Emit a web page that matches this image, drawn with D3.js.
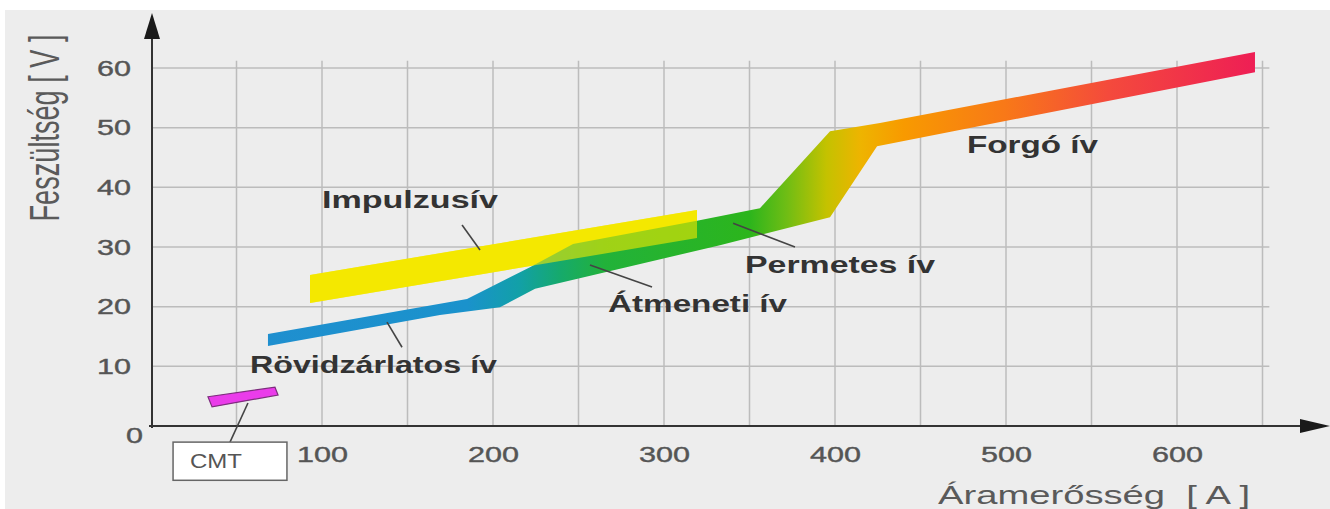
<!DOCTYPE html>
<html>
<head>
<meta charset="utf-8">
<script src="https://cdnjs.cloudflare.com/ajax/libs/d3/7.8.5/d3.min.js"></script>
<style>
  body { margin: 0; background: #fff; }
  svg { display: block; font-family: "Liberation Sans", Arial, sans-serif; }
</style>
</head>
<body>
<div id="main"></div>
<script>
// axis ticks
var xTicks = [100, 200, 300, 400, 500, 600];
var yTicks = [0, 10, 20, 30, 40, 50, 60];
var xGrid = [50, 100, 150, 200, 250, 300, 350, 400, 450, 500, 550, 600, 650];
var yGrid = [10, 20, 30, 40, 50, 60];

// main arc band (short arc -> transition -> spray -> rotating), [A, V]
var mainUpper = [[68.4, 15.4], [184.8, 21.3], [221.6, 26.6], [246.8, 30.5], [319.3, 34.4],
                 [356.1, 36.5], [397.1, 49.4], [426.3, 50.8], [645.6, 62.7]];
var mainLower = [[68.4, 13.4], [169.0, 18.6], [204.1, 19.9], [224.6, 23.0], [332.7, 30.3],
                 [397.1, 35.0], [424.6, 46.9], [645.6, 59.3]];

// pulse arc band
var pulseUpper = [[93, 25.3], [319.3, 36.2]];
var pulseLower = [[93, 20.6], [319.3, 31.5]];

// CMT patch
var cmtShape = [[33.3, 4.9], [72.5, 6.5], [74.3, 5.2], [35.7, 3.2]];

// colour along the current axis
var bandStops = [[68, "#1f8fcf"], [185, "#1a92cc"], [215, "#12a0a8"], [240, "#16aa6a"],
                 [265, "#22b23a"], [350, "#2cb51c"], [372, "#70bd14"], [395, "#c4c200"],
                 [415, "#eeb400"], [440, "#f89a00"], [500, "#f87818"], [560, "#f44a3c"],
                 [646, "#ee1e55"]];

// labels and their leader lines
var labels = [
  {text: "Impulzusív", a: 100, v: 36.5},
  {text: "Rövidzárlatos ív", a: 57.9, v: 8.9},
  {text: "Átmeneti ív", a: 267.3, v: 19.1},
  {text: "Permetes ív", a: 347.4, v: 25.6},
  {text: "Forgó ív", a: 477.2, v: 45.8}
];
var leaders = [
  [[181.9, 33.7], [192.4, 29.5]],
  [[138.0, 17.4], [146.8, 13.2]],
  [[256.7, 27.0], [293.0, 23.3]],
  [[340.4, 34.0], [376.6, 30.0]],
  [[56.7, 3.85], [46.2, -2.7]]
];
var cmtBox = {a0: 12.9, a1: 79.5, v0: -2.7, v1: -9.1, text: "CMT"};

var width = 1330, height = 509;
var labelWidth = {"Impulzusív": 176, "Rövidzárlatos ív": 247, "Átmeneti ív": 179,
                  "Permetes ív": 190, "Forgó ív": 131};

var x = d3.scaleLinear().domain([0, 650]).range([151, 151 + 650 * 1.71]);
var y = d3.scaleLinear().domain([0, 60]).range([426, 68]);

var svg = d3.select("#main").append("svg")
    .attr("width", width)
    .attr("height", height);

svg.append("rect")
    .attr("x", 5).attr("y", 10)
    .attr("width", width - 5).attr("height", height - 10)
    .attr("fill", "#ededed");

var grad = svg.append("defs").append("linearGradient")
    .attr("id", "arcGrad")
    .attr("gradientUnits", "userSpaceOnUse")
    .attr("x1", x(bandStops[0][0])).attr("x2", x(bandStops[bandStops.length - 1][0]))
    .attr("y1", 0).attr("y2", 0);
var g0 = bandStops[0][0], g1 = bandStops[bandStops.length - 1][0];
grad.selectAll("stop")
    .data(bandStops)
    .enter().append("stop")
      .attr("offset", function(d){ return (d[0] - g0) / (g1 - g0); })
      .attr("stop-color", function(d){ return d[1]; });

// grid
svg.append("g").selectAll("line")
    .data(xGrid)
    .enter().append("line")
      .attr("x1", function(d){ return x(d); })
      .attr("x2", function(d){ return x(d); })
      .attr("y1", y(61.2))
      .attr("y2", y(0))
      .attr("stroke", "#bcbcbc")
      .attr("stroke-width", 1.5);

svg.append("g").selectAll("line")
    .data(yGrid)
    .enter().append("line")
      .attr("x1", x(0))
      .attr("x2", x(654))
      .attr("y1", function(d){ return y(d); })
      .attr("y2", function(d){ return y(d); })
      .attr("stroke", "#bcbcbc")
      .attr("stroke-width", 1.5);

var line = d3.line()
    .x(function(d){ return x(d[0]); })
    .y(function(d){ return y(d[1]); });

var band = function(upper, lower){
  return line(upper.concat(lower.slice().reverse())) + "Z";
};

// bands
svg.append("path").attr("d", band(pulseUpper, pulseLower)).attr("fill", "#f4e800");
svg.append("path").attr("d", band(mainUpper, mainLower)).attr("fill", "url(#arcGrad)");
svg.append("path").attr("d", band(pulseUpper, pulseLower)).attr("fill", "#f4e800").attr("opacity", 0.6);

svg.append("path")
    .attr("d", line(cmtShape) + "Z")
    .attr("fill", "#ea3cea")
    .attr("stroke", "#7d2d7d")
    .attr("stroke-width", 1.2);

// axes
var yAxis = d3.axisLeft(y).tickValues(yTicks).tickSize(0).tickPadding(20);
var xAxis = d3.axisBottom(x).tickValues(xTicks).tickSize(0).tickPadding(20);

var gy = svg.append("g").attr("transform", "translate(" + x(0) + ",0)").call(yAxis);
var gx = svg.append("g").attr("transform", "translate(0," + y(0) + ")").call(xAxis);
gy.select(".domain").remove();
gx.select(".domain").remove();

[gy, gx].forEach(function(g){
  g.selectAll("text")
    .attr("font-size", 22)
    .attr("font-family", "\"Liberation Sans\", Arial, sans-serif")
    .attr("fill", "#555")
    .attr("stroke", "#555")
    .attr("stroke-width", 0.4)
    .attr("textLength", function(d){ return String(d).length * 17; })
    .attr("lengthAdjust", "spacingAndGlyphs");
});
gy.selectAll(".tick").filter(function(d){ return d === 0; })
  .select("text").attr("x", -8).attr("dy", "0.32em").attr("y", 9);

svg.append("line")
    .attr("x1", x(0) + 1).attr("x2", x(0) + 1)
    .attr("y1", y(0) + 2).attr("y2", 36)
    .attr("stroke", "#333").attr("stroke-width", 2);
svg.append("path")
    .attr("d", "M" + (x(0) + 1) + ",13L" + (x(0) + 9) + ",39L" + (x(0) - 7) + ",39Z")
    .attr("fill", "#1a1a1a");
svg.append("line")
    .attr("x1", x(0) - 2).attr("x2", 1302)
    .attr("y1", y(0)).attr("y2", y(0))
    .attr("stroke", "#333").attr("stroke-width", 2);
svg.append("path")
    .attr("d", "M1330," + y(0) + "L1300," + (y(0) - 7) + "L1300," + (y(0) + 7) + "Z")
    .attr("fill", "#1a1a1a");

// axis titles
svg.append("text")
    .attr("transform", "translate(59,128) scale(1.8,1) rotate(-90)")
    .attr("text-anchor", "middle")
    .attr("font-size", 24)
    .attr("fill", "#5a5a5a")
    .attr("textLength", 187)
    .attr("lengthAdjust", "spacingAndGlyphs")
    .text("Feszültség [ V ]");

svg.append("text")
    .attr("x", 938).attr("y", 504)
    .attr("font-size", 25)
    .attr("fill", "#5a5a5a")
    .attr("textLength", 312)
    .attr("lengthAdjust", "spacingAndGlyphs")
    .style("white-space", "pre")
    .text("Áramerősség  [ A ]");

// leader lines
svg.append("g").selectAll("line")
    .data(leaders)
    .enter().append("line")
      .attr("x1", function(d){ return x(d[0][0]); })
      .attr("y1", function(d){ return y(d[0][1]); })
      .attr("x2", function(d){ return x(d[1][0]); })
      .attr("y2", function(d){ return y(d[1][1]); })
      .attr("stroke", "#444")
      .attr("stroke-width", 1.6);

// labels
svg.append("g").selectAll("text")
    .data(labels)
    .enter().append("text")
      .attr("x", function(d){ return x(d.a); })
      .attr("y", function(d){ return y(d.v); })
      .attr("font-size", 23)
      .attr("font-weight", "bold")
      .attr("fill", "#333")
      .attr("textLength", function(d){ return labelWidth[d.text]; })
      .attr("lengthAdjust", "spacingAndGlyphs")
      .text(function(d){ return d.text; });

// CMT box
svg.append("rect")
    .attr("x", x(cmtBox.a0)).attr("y", y(cmtBox.v0))
    .attr("width", x(cmtBox.a1) - x(cmtBox.a0))
    .attr("height", y(cmtBox.v1) - y(cmtBox.v0))
    .attr("fill", "#fff")
    .attr("stroke", "#666")
    .attr("stroke-width", 1.5);
svg.append("text")
    .attr("x", 190).attr("y", 468)
    .attr("font-size", 20)
    .attr("fill", "#555")
    .attr("textLength", 52)
    .attr("lengthAdjust", "spacingAndGlyphs")
    .text(cmtBox.text);
</script>
</body>
</html>
